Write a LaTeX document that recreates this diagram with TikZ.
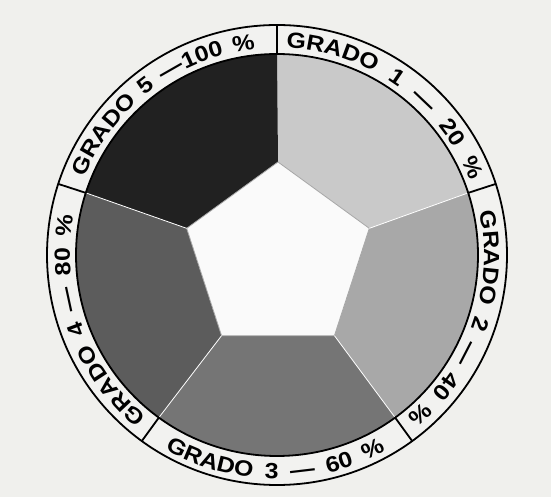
\documentclass[tikz,border=0pt]{standalone}
\usepackage{fontspec}
\newfontfamily\gradofamily{Liberation Sans}[FakeStretch=1.13]
\usepackage{tikz}
\usetikzlibrary{calc,decorations.text}

\definecolor{paper}{rgb}{0.94,0.94,0.93}
\definecolor{ringpaper}{rgb}{0.95,0.95,0.94}
\definecolor{centre}{rgb}{0.98,0.98,0.98}
\definecolor{grado1}{gray}{0.79}
\definecolor{grado2}{gray}{0.66}
\definecolor{grado3}{gray}{0.46}
\definecolor{grado4}{gray}{0.36}
\definecolor{grado5}{gray}{0.13}

\newcommand{\gradofont}{\gradofamily\bfseries\fontsize{22}{24}\selectfont}

\begin{document}
\begin{tikzpicture}[x=1pt,y=1pt,
    ring/.style={draw=black, line width=1.8pt},
    seam/.style={draw=white, line width=0.8pt},
    label/.style={decorate, decoration={text along path, text align={fit to path stretching spaces}}}]

    % Paper
    \fill[paper] (-277,-242) rectangle (274,255);
    \useasboundingbox (-277,-242) rectangle (274,255);

    % Centre of the wheel and corners of the pentagon
    \coordinate (O) at (0,0);
    \foreach \a [count=\i] in {90,18,-54,-126,162}
        \coordinate (p\i) at ($(1,-3)+(\a:96)$);

    % Ring ground
    \fill[ringpaper] (O) circle[radius=230];

    % Sectors
    \fill[grado1] (p1) -- (90:201) arc[start angle=90, end angle=18, radius=201] -- (p2) -- cycle;
    \fill[grado2] (p2) -- (18:201) arc[start angle=18, end angle=-54, radius=201] -- (p3) -- cycle;
    \fill[grado3] (p3) -- (-54:201) arc[start angle=-54, end angle=-126, radius=201] -- (p4) -- cycle;
    \fill[grado4] (p4) -- (-126:201) arc[start angle=-126, end angle=-198, radius=201] -- (p5) -- cycle;
    \fill[grado5] (p5) -- (162:201) arc[start angle=162, end angle=90, radius=201] -- (p1) -- cycle;

    % Centre pentagon
    \filldraw[fill=centre, draw=gray!70, line width=0.8pt] (p1) -- (p2) -- (p3) -- (p4) -- (p5) -- cycle;

    % Seams between the sectors
    \foreach \i/\a in {2/18,3/-54,4/-126,5/162}
        \draw[seam] (p\i) -- (\a:201);

    % Ring
    \draw[ring] (O) circle[radius=230];
    \draw[ring] (O) circle[radius=201];
    \foreach \a in {90,18,-54,-126,162}
        \draw[ring] (\a:201) -- (\a:230);

    % Labels
    \path[label, decoration={text={|\gradofont|GRADO 1 — 20 {\%}}}] (87.5:207) arc[start angle=87.5, end angle=21, radius=207];
    \path[label, decoration={text={|\gradofont|GRADO 2 — 40 {\%}}}] (12:207) arc[start angle=12, end angle=-51, radius=207];
    \path[label, decoration={text={|\gradofont|GRADO 3 — 60 {\%}}}] (-120:224) arc[start angle=-120, end angle=-61, radius=224];
    \path[label, decoration={text={|\gradofont|GRADO 4 — 80 {\%}}}] (231:207) arc[start angle=231, end angle=169, radius=207];
    \path[label, decoration={text={|\gradofont|GRADO 5 —100 {\%}}}] (158:207) arc[start angle=158, end angle=96, radius=207];

\end{tikzpicture}
\end{document}
